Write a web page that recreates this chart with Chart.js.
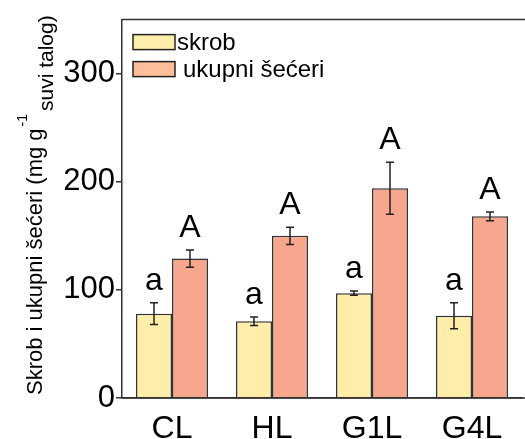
<!DOCTYPE html>
<html>
<head>
<meta charset="utf-8">
<script src="https://cdn.jsdelivr.net/npm/chart.js@4/dist/chart.umd.min.js"></script>
<style>
  html, body { margin: 0; padding: 0; background: #fff; overflow: hidden; }
  #wrap { width: 525px; height: 439px; }
</style>
</head>
<body>
<div id="wrap"><canvas id="chart1" width="525" height="439"></canvas></div>
<script>
var categories = ['CL', 'HL', 'G1L', 'G4L'];
var skrob = [78, 71, 97, 76];
var skrobErr = [10, 4, 2, 12];
var secer = [129, 150, 194, 168];
var secerErr = [8, 8, 24, 4];
var skrobLetters = ['a', 'a', 'a', 'a'];
var secerLetters = ['A', 'A', 'A', 'A'];
var yTicks = [0, 100, 200, 300];

var colors = {
    skrob: 'rgb(255, 237, 170)',
    secer: 'rgb(247, 167, 142)',
    secerLegend: 'rgb(255, 190, 155)',
    line: '#333333'
};
var font = "'Liberation Sans', Arial, sans-serif";

var errs = [skrobErr, secerErr];
var letters = [skrobLetters, secerLetters];

// error bars and letters above them
var errorBars = {
    id: 'errorBars',
    afterDatasetsDraw: function(chart) {
        var ctx = chart.ctx;
        var y = chart.scales.y;
        ctx.save();
        chart.data.datasets.forEach(function(ds, i) {
            var meta = chart.getDatasetMeta(i);
            meta.data.forEach(function(bar, j) {
                var v = ds.data[j];
                var top = y.getPixelForValue(v + errs[i][j]);
                var bot = y.getPixelForValue(v - errs[i][j]);
                ctx.strokeStyle = '#222';
                ctx.lineWidth = 1.5;
                ctx.beginPath();
                ctx.moveTo(bar.x, top); ctx.lineTo(bar.x, bot);
                ctx.moveTo(bar.x - 4, top); ctx.lineTo(bar.x + 4, top);
                ctx.moveTo(bar.x - 4, bot); ctx.lineTo(bar.x + 4, bot);
                ctx.stroke();
                ctx.fillStyle = '#000';
                ctx.font = '32px ' + font;
                ctx.textAlign = 'center';
                ctx.textBaseline = 'alphabetic';
                ctx.fillText(letters[i][j], bar.x, top - 13);
            });
        });
        ctx.restore();
    }
};

// frame top line, legend box and y title
var extras = {
    id: 'extras',
    afterDraw: function(chart) {
        var ctx = chart.ctx;
        var a = chart.chartArea;
        ctx.save();
        ctx.strokeStyle = colors.line;
        ctx.lineWidth = 1.5;
        ctx.beginPath();
        ctx.moveTo(a.left, a.top); ctx.lineTo(chart.width, a.top);
        ctx.moveTo(a.left, a.bottom); ctx.lineTo(chart.width, a.bottom);
        ctx.stroke();

        // legend
        var items = [
            { text: 'skrob', fill: colors.skrob, dy: 15, tx: 55 },
            { text: 'ukupni šećeri', fill: colors.secerLegend, dy: 42, tx: 61 }
        ];
        ctx.font = '24px ' + font;
        ctx.textBaseline = 'alphabetic';
        ctx.textAlign = 'left';
        items.forEach(function(it) {
            ctx.fillStyle = it.fill;
            ctx.fillRect(a.left + 11, a.top + it.dy, 42, 15);
            ctx.strokeStyle = '#222';
            ctx.lineWidth = 1.5;
            ctx.strokeRect(a.left + 11, a.top + it.dy, 42, 15);
            ctx.fillStyle = '#000';
            ctx.fillText(it.text, a.left + it.tx, a.top + it.dy + 15);
        });

        // y axis title
        ctx.translate(42, 395);
        ctx.rotate(-Math.PI / 2);
        ctx.fillStyle = '#000';
        ctx.font = '22px ' + font;
        var main = 'Skrob i ukupni šećeri (mg g';
        ctx.fillText(main, 0, 0);
        var w = ctx.measureText(main).width;
        ctx.font = '14px ' + font;
        ctx.fillText('-1', w + 2, -15);
        var w2 = ctx.measureText('-1').width;
        ctx.font = '21px ' + font;
        ctx.fillText('suvi talog)', w + w2 + 5, 11);
        ctx.restore();
    }
};

var ctx1 = document.getElementById('chart1');
var chart1 = new Chart(ctx1.getContext('2d'), {
    type: 'bar',
    data: {
        labels: categories,
        datasets: [{
            label: 'skrob',
            data: skrob,
            backgroundColor: colors.skrob,
            borderColor: colors.line,
            borderWidth: 1.5,
            barPercentage: 1,
            categoryPercentage: 0.72
        }, {
            label: 'ukupni šećeri',
            data: secer,
            backgroundColor: colors.secer,
            borderColor: colors.line,
            borderWidth: 1.5,
            barPercentage: 1,
            categoryPercentage: 0.72
        }]
    },
    options: {
        responsive: false,
        animation: false,
        layout: { padding: { top: 16, right: 3, left: 0, bottom: 0 } },
        plugins: {
            legend: { display: false },
            tooltip: { enabled: false }
        },
        scales: {
            x: {
                grid: { display: false },
                border: { color: colors.line, width: 1.5 },
                ticks: { color: '#000', font: { family: font, size: 32 }, padding: 4 },
                afterFit: function(scale) { scale.height = 41; }
            },
            y: {
                min: 0,
                max: 350,
                grid: { drawOnChartArea: false, drawTicks: true, tickLength: 6, color: colors.line, lineWidth: 1.5 },
                border: { color: colors.line, width: 1.5 },
                ticks: { color: '#000', font: { family: font, size: 31 }, padding: 1 },
                afterBuildTicks: function(scale) {
                    scale.ticks = yTicks.map(function(v) { return { value: v }; });
                },
                afterFit: function(scale) { scale.width = 122; }
            }
        }
    },
    plugins: [errorBars, extras]
});
</script>
</body>
</html>
